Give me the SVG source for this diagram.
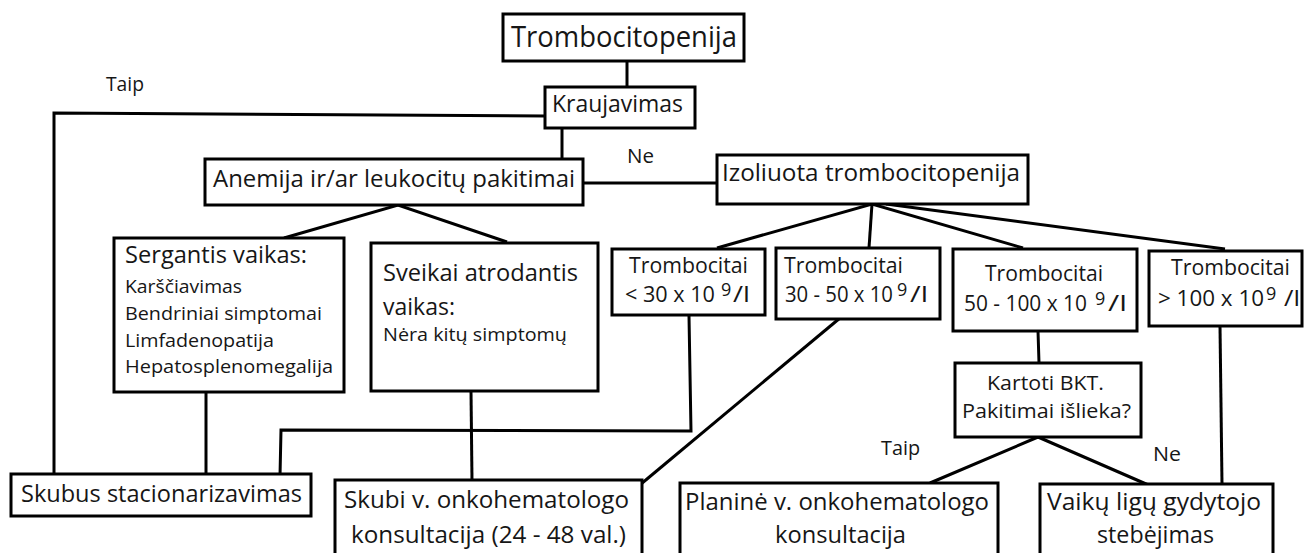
<svg xmlns="http://www.w3.org/2000/svg" width="1305" height="553" viewBox="0 0 1305 553">
  <style>
    .box { fill: #fff; stroke: #000; stroke-width: 3; }
    .wire { fill: none; stroke: #000; stroke-width: 3; stroke-linejoin: miter; }
    text { font-family: "Open Sans", "Noto Sans", sans-serif; fill: #161616; }
    .t29 { font-size: 29px; }
    .t24 { font-size: 24px; }
    .t23 { font-size: 23px; }
    .t21 { font-size: 21px; }
    .t20 { font-size: 20px; }
    .t19 { font-size: 19px; }
    .sup { font-size: 18px; }
  </style>
  <rect width="1305" height="553" fill="#fff"/>

  <!-- connectors -->
  <g id="connectors">
    <path class="wire" d="M627 61 V87"/>
    <path class="wire" d="M546 116 L54 113 V475"/>
    <path class="wire" d="M562 128 V160"/>
    <path class="wire" d="M583 183 H718"/>
    <path class="wire" d="M284 238 L398 205 L507 242"/>
    <path class="wire" d="M206 392 V475"/>
    <path class="wire" d="M471 391 L472 481"/>
    <path class="wire" d="M717 248 L872 204 L1023 248"/>
    <path class="wire" d="M872 204 L869 248"/>
    <path class="wire" d="M886 204 L1225 249"/>
    <path class="wire" d="M689 316 L691 431 L281 430 L280 476"/>
    <path class="wire" d="M840 318 L641 484"/>
    <path class="wire" d="M1038 331 L1039 363"/>
    <path class="wire" d="M930 483 L1038 437 L1153 487"/>
    <path class="wire" d="M1220 326 L1222 484"/>
  </g>

  <!-- edge labels -->
  <g id="labels">
    <text class="t20" x="106" y="91" textLength="38" lengthAdjust="spacingAndGlyphs">Taip</text>
    <text class="t20" x="627" y="163" textLength="27" lengthAdjust="spacingAndGlyphs">Ne</text>
    <text class="t20" x="881" y="455" textLength="39" lengthAdjust="spacingAndGlyphs">Taip</text>
    <text class="t20" x="1153" y="461" textLength="28" lengthAdjust="spacingAndGlyphs">Ne</text>
  </g>

  <g id="n-trombocitopenija">
    <rect class="box" x="503" y="14" width="241" height="47"/>
    <text class="t29" x="511" y="47" textLength="226" lengthAdjust="spacingAndGlyphs">Trombocitopenija</text>
  </g>

  <g id="n-kraujavimas">
    <rect class="box" x="545" y="87" width="150" height="41"/>
    <text class="t23" x="552" y="112" textLength="131" lengthAdjust="spacingAndGlyphs">Kraujavimas</text>
  </g>

  <g id="n-anemija">
    <rect class="box" x="205" y="159" width="378" height="46"/>
    <text class="t24" x="213" y="187" textLength="362" lengthAdjust="spacingAndGlyphs">Anemija ir/ar leukocitų pakitimai</text>
  </g>

  <g id="n-izoliuota">
    <rect class="box" x="717" y="155" width="311" height="49"/>
    <text class="t24" x="722" y="181" textLength="298" lengthAdjust="spacingAndGlyphs">Izoliuota trombocitopenija</text>
  </g>

  <g id="n-sergantis">
    <rect class="box" x="114" y="238" width="230" height="154"/>
    <text class="t23" x="125" y="263" textLength="182" lengthAdjust="spacingAndGlyphs">Sergantis vaikas:</text>
    <text class="t19" x="125" y="293" textLength="117" lengthAdjust="spacingAndGlyphs">Karščiavimas</text>
    <text class="t19" x="125" y="320" textLength="197" lengthAdjust="spacingAndGlyphs">Bendriniai simptomai</text>
    <text class="t19" x="125" y="347" textLength="149" lengthAdjust="spacingAndGlyphs">Limfadenopatija</text>
    <text class="t19" x="125" y="373" textLength="208" lengthAdjust="spacingAndGlyphs">Hepatosplenomegalija</text>
  </g>

  <g id="n-sveikai">
    <rect class="box" x="371" y="243" width="227" height="148"/>
    <text class="t24" x="383" y="281" textLength="195" lengthAdjust="spacingAndGlyphs">Sveikai atrodantis</text>
    <text class="t24" x="383" y="315" textLength="72" lengthAdjust="spacingAndGlyphs">vaikas:</text>
    <text class="t19" x="383" y="341" textLength="184" lengthAdjust="spacingAndGlyphs">Nėra kitų simptomų</text>
  </g>

  <g id="n-tromb-30">
    <rect class="box" x="612" y="249" width="153" height="66"/>
    <text class="t21" x="629" y="273" textLength="119" lengthAdjust="spacingAndGlyphs">Trombocitai</text>
    <text class="t21" x="625" y="302" textLength="90" lengthAdjust="spacingAndGlyphs">&lt; 30 x 10</text>
    <text class="sup" x="721" y="296">9</text>
    <text class="t21" x="733" y="302" textLength="17" lengthAdjust="spacingAndGlyphs">/l</text>
  </g>

  <g id="n-tromb-30-50">
    <rect class="box" x="776" y="248" width="164" height="71"/>
    <text class="t21" x="784" y="273" textLength="119" lengthAdjust="spacingAndGlyphs">Trombocitai</text>
    <text class="t21" x="785" y="302" textLength="108" lengthAdjust="spacingAndGlyphs">30 - 50 x 10</text>
    <text class="sup" x="897" y="296">9</text>
    <text class="t21" x="910" y="302" textLength="18" lengthAdjust="spacingAndGlyphs">/l</text>
  </g>

  <g id="n-tromb-50-100">
    <rect class="box" x="953" y="249" width="184" height="82"/>
    <text class="t21" x="985" y="281" textLength="118" lengthAdjust="spacingAndGlyphs">Trombocitai</text>
    <text class="t21" x="964" y="311" textLength="123" lengthAdjust="spacingAndGlyphs">50 - 100 x 10</text>
    <text class="sup" x="1095" y="305">9</text>
    <text class="t21" x="1108" y="311" textLength="19" lengthAdjust="spacingAndGlyphs">/l</text>
  </g>

  <g id="n-tromb-100">
    <rect class="box" x="1149" y="251" width="153" height="75"/>
    <text class="t21" x="1171" y="275" textLength="119" lengthAdjust="spacingAndGlyphs">Trombocitai</text>
    <text class="t21" x="1158" y="306" textLength="106" lengthAdjust="spacingAndGlyphs">&gt; 100 x 10</text>
    <text class="sup" x="1266" y="300">9</text>
    <text class="t21" x="1284" y="306" textLength="16" lengthAdjust="spacingAndGlyphs">/l</text>
  </g>

  <g id="n-kartoti">
    <rect class="box" x="955" y="363" width="186" height="74"/>
    <text class="t20" x="987" y="390" textLength="117" lengthAdjust="spacingAndGlyphs">Kartoti BKT.</text>
    <text class="t20" x="962" y="418" textLength="169" lengthAdjust="spacingAndGlyphs">Pakitimai išlieka?</text>
  </g>

  <g id="n-skubus">
    <rect class="box" x="11" y="474" width="300" height="42"/>
    <text class="t24" x="21" y="502" textLength="281" lengthAdjust="spacingAndGlyphs">Skubus stacionarizavimas</text>
  </g>

  <g id="n-skubi">
    <rect class="box" x="335" y="480" width="307" height="90"/>
    <text class="t24" x="344" y="508" textLength="285" lengthAdjust="spacingAndGlyphs">Skubi v. onkohematologo</text>
    <text class="t24" x="351" y="543" textLength="275" lengthAdjust="spacingAndGlyphs">konsultacija (24 - 48 val.)</text>
  </g>

  <g id="n-planine">
    <rect class="box" x="680" y="483" width="318" height="90"/>
    <text class="t24" x="685" y="510" textLength="304" lengthAdjust="spacingAndGlyphs">Planinė v. onkohematologo</text>
    <text class="t24" x="775" y="543" textLength="131" lengthAdjust="spacingAndGlyphs">konsultacija</text>
  </g>

  <g id="n-vaiku">
    <rect class="box" x="1040" y="484" width="233" height="90"/>
    <text class="t24" x="1047" y="510" textLength="214" lengthAdjust="spacingAndGlyphs">Vaikų ligų gydytojo</text>
    <text class="t24" x="1097" y="543" textLength="117" lengthAdjust="spacingAndGlyphs">stebėjimas</text>
  </g>
</svg>
